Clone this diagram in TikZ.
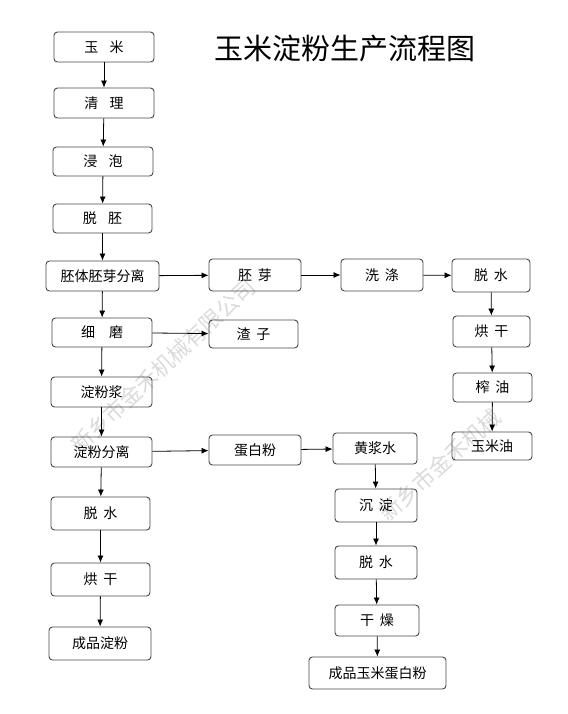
\documentclass[tikz,border=0pt]{standalone}
\usepackage{fontspec}
\newfontfamily\cjk{Noto Sans CJK SC}
\usetikzlibrary{arrows.meta}
\tikzset{
  box/.style={draw=black!72, line width=0.9pt, rounded corners=3.5pt, inner sep=0pt,
    font=\cjk\fontsize{14}{16}\selectfont, text=black},
  arr/.style={draw=black, line width=0.8pt, -{Latex[length=7pt,width=6pt]}},
  wmark/.style={text=black!14, font=\cjk\fontsize{22}{22}\selectfont, inner sep=0pt},
  titlestyle/.style={font=\cjk\fontsize{29}{32}\selectfont, text=black, inner sep=0pt}
}
\begin{document}
\begin{tikzpicture}[x=1pt,y=-1pt]
\useasboundingbox[fill=white] (0,0) rectangle (567,714);
% watermarks
\node[wmark, rotate=43] (wm1) at (163,366) {新乡市金禾机械有限公司};
\node[wmark, rotate=42] (wm2) at (440,465) {新乡市金禾机械};
% title
\node[titlestyle] (title) at (345,48) {玉米淀粉生产流程图};
% left column
\node[box, minimum width=100pt, minimum height=30pt] (yumi) at (104,47) {玉\hspace{0.8em}米};
\node[box, minimum width=100pt, minimum height=30pt] (qingli) at (104,103) {清\hspace{0.8em}理};
\node[box, minimum width=100pt, minimum height=29pt] (jinpao) at (103,161.5) {浸\hspace{0.8em}泡};
\node[box, minimum width=99pt, minimum height=29pt] (tuopei) at (102.5,218.5) {脱\hspace{0.8em}胚};
\node[box, minimum width=113pt, minimum height=30pt] (fenli1) at (102.5,276) {胚体胚芽分离};
\node[box, minimum width=100pt, minimum height=29pt] (xima) at (102,332.5) {细\hspace{1em}磨};
\node[box, minimum width=101pt, minimum height=30pt] (jiang) at (101.5,392) {淀粉浆};
\node[box, minimum width=101pt, minimum height=30pt] (fenli2) at (101.5,452) {淀粉分离};
\node[box, minimum width=99pt, minimum height=33pt] (tsl) at (100.5,513.5) {脱\hspace{0.4em}水};
\node[box, minimum width=99pt, minimum height=33pt] (hgl) at (100.5,579.5) {烘\hspace{0.4em}干};
\node[box, minimum width=102pt, minimum height=33pt] (cpl) at (100,643.5) {成品淀粉};
% second column
\node[box, minimum width=92pt, minimum height=32pt] (peiya) at (255,275) {胚\hspace{0.4em}芽};
\node[box, minimum width=89pt, minimum height=28pt] (zhazi) at (253.5,334) {渣\hspace{0.4em}子};
\node[box, minimum width=92pt, minimum height=30pt] (dbf) at (255,450) {蛋白粉};
% third column
\node[box, minimum width=82pt, minimum height=32pt] (xidi) at (382,275) {洗\hspace{0.4em}涤};
\node[box, minimum width=84pt, minimum height=31pt] (hjs) at (375,448.5) {黄浆水};
\node[box, minimum width=82pt, minimum height=33pt] (chendian) at (376,505.5) {沉\hspace{0.4em}淀};
\node[box, minimum width=82pt, minimum height=33pt] (tsm) at (376,562.5) {脱\hspace{0.4em}水};
\node[box, minimum width=84pt, minimum height=31pt] (ganzao) at (377,620.5) {干\hspace{0.4em}燥};
\node[box, minimum width=137pt, minimum height=32pt] (cpm) at (377.5,673) {成品玉米蛋白粉};
% right column
\node[box, minimum width=78pt, minimum height=33pt] (tsr) at (491,275.5) {脱\hspace{0.4em}水};
\node[box, minimum width=77pt, minimum height=31pt] (hgr) at (491.5,331.5) {烘\hspace{0.4em}干};
\node[box, minimum width=79pt, minimum height=29pt] (zhayou) at (492.5,387.5) {榨\hspace{0.4em}油};
\node[box, minimum width=80pt, minimum height=28pt] (ymy) at (492,446) {玉米油};
% connectors
\draw[arr] (yumi) -- (qingli);
\draw[arr] (qingli) -- (jinpao);
\draw[arr] (jinpao) -- (tuopei);
\draw[arr] (tuopei) -- (fenli1);
\draw[arr] (fenli1) -- (xima);
\draw[arr] (xima) -- (jiang);
\draw[arr] (jiang) -- (fenli2);
\draw[arr] (fenli2) -- (tsl);
\draw[arr] (tsl) -- (hgl);
\draw[arr] (hgl) -- (cpl);
\draw[arr] (fenli1) -- (peiya);
\draw[arr] (peiya) -- (xidi);
\draw[arr] (xidi) -- (tsr);
\draw[arr] (tsr) -- (hgr);
\draw[arr] (hgr) -- (zhayou);
\draw[arr] (zhayou) -- (ymy);
\draw[arr] (xima) -- (zhazi);
\draw[arr] (fenli2) -- (dbf);
\draw[arr] (dbf) -- (hjs);
\draw[arr] (hjs) -- (chendian);
\draw[arr] (chendian) -- (tsm);
\draw[arr] (tsm) -- (ganzao);
\draw[arr] (ganzao) -- (cpm);
\end{tikzpicture}
\end{document}
